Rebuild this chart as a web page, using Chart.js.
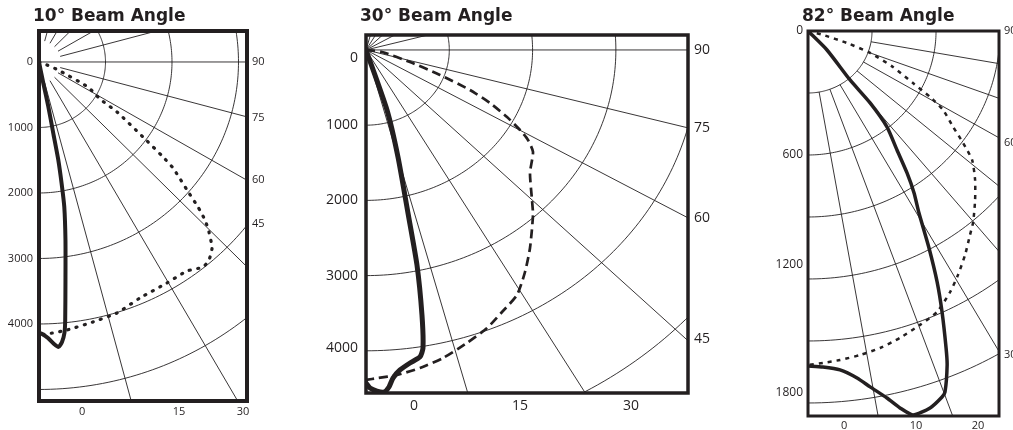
<!DOCTYPE html>
<html>
<head>
<meta charset="utf-8">
<script src="https://cdn.jsdelivr.net/npm/chart.js@4.4.1/dist/chart.umd.min.js"></script>
<style>
  html, body { margin: 0; padding: 0; background: #fff; }
  body { width: 1013px; height: 430px; position: relative; overflow: hidden; }
  canvas { position: absolute; top: 0; }
</style>
</head>
<body>
<canvas id="beam10" width="300" height="430" style="left:0px"></canvas>
<canvas id="beam30" width="440" height="430" style="left:300px"></canvas>
<canvas id="beam82" width="273" height="430" style="left:740px"></canvas>
<script>
// 10° beam: lateral (x) and vertical (y) candela components
const beam10SolidX = [0, 65, 140, 215, 290, 340, 380, 398, 398, 394, 383, 346, 293, 226, 135, 60, 0];
const beam10SolidY = [0, 325, 680, 1090, 1495, 1855, 2210, 2720, 3330, 3940, 4135, 4275, 4350, 4305, 4215, 4160, 4135];
const beam10DotX = [0, 120, 286, 737, 917, 1173, 1564, 1865, 2015, 2226, 2391, 2496, 2556, 2602, 2556, 2466, 2226, 1925, 1519, 1173, 812, 421, 120, 0];
const beam10DotY = [0, 46, 122, 382, 565, 763, 1145, 1450, 1618, 1954, 2214, 2412, 2595, 2840, 3023, 3130, 3191, 3374, 3603, 3832, 3969, 4092, 4153, 4168];

// 30° beam
const beam30SolidX = [0, 252, 384, 504, 612, 672, 684, 648, 528, 408, 324, 276, 216, 132, 48, 0];
const beam30SolidY = [0, 798, 1423, 2168, 2859, 3524, 3963, 4082, 4162, 4255, 4362, 4481, 4548, 4535, 4495, 4428];
const beam30DashX = [0, 192, 528, 888, 1248, 1489, 1693, 1849, 1945, 2005, 1969, 1993, 2005, 1969, 1909, 1813, 1633, 1453, 1212, 924, 648, 372, 144, 0];
const beam30DashY = [0, 27, 160, 332, 532, 705, 891, 1064, 1197, 1356, 1636, 1995, 2194, 2633, 2952, 3258, 3484, 3697, 3896, 4096, 4229, 4322, 4362, 4388];

// 82° beam
const beam82SolidX = [0, 89, 197, 291, 370, 417, 464, 497, 520, 567, 605, 628, 647, 652, 642, 628, 572, 492, 431, 370, 291, 230, 150, 70, 0];
const beam82SolidY = [0, 92, 237, 348, 464, 576, 687, 784, 881, 1050, 1214, 1359, 1534, 1616, 1747, 1771, 1824, 1858, 1824, 1776, 1722, 1679, 1640, 1626, 1621];
const beam82DotX = [0, 70, 183, 291, 398, 492, 572, 633, 680, 727, 769, 783, 783, 774, 759, 736, 703, 666, 605, 525, 431, 338, 244, 150, 70, 0];
const beam82DotY = [0, 19, 58, 106, 174, 252, 319, 382, 464, 542, 624, 721, 818, 924, 987, 1084, 1180, 1263, 1359, 1422, 1485, 1534, 1568, 1592, 1606, 1616];

// grids: arc radii (cd) and spoke angles (deg from nadir)
const beam10Arcs = [1000, 2000, 3000, 4000, 5000];
const beam10Spokes = [15, 30, 45, 60, 75, 90, 105, 120, 135, 150, 165];
const beam30Arcs = [1000, 2000, 3000, 4000, 5250];
const beam30Spokes = [15, 30, 45, 60, 75, 90, 105, 120, 135, 150, 165];
const beam82Arcs = [300, 600, 900, 1200, 1500, 1800];
const beam82Spokes = [10, 20, 30, 40, 50, 60, 70, 80, 90];

// tick labels and where they sit
const beam10LeftLabels = ['0', '1000', '2000', '3000', '4000'];
const beam10LeftPos = [0, 1000, 2000, 3000, 4000];
const beam10RightLabels = ['90', '75', '60', '45'];
const beam10RightPos = [0, 855, 1800, 2470];
const beam10BottomLabels = ['0', '15', '30'];
const beam10BottomPos = [647, 2105, 3068];

const beam30LeftLabels = ['0', '1000', '2000', '3000', '4000'];
const beam30LeftPos = [106, 1000, 2000, 3000, 3960];
const beam30RightLabels = ['90', '75', '60', '45'];
const beam30RightPos = [0, 1037, 2234, 3843];
const beam30BottomLabels = ['0', '15', '30'];
const beam30BottomPos = [576, 1849, 3181];

const beam82LeftLabels = ['0', '600', '1200', '1800'];
const beam82LeftPos = [0, 600, 1132, 1751];
const beam82RightLabels = ['90', '60', '30'];
const beam82RightPos = [0, 542, 1567];
const beam82BottomLabels = ['0', '10', '20'];
const beam82BottomPos = [169, 506, 797];

const INK = '#231f20';
const LABEL_FONT = '"Open Sans", "DejaVu Sans", sans-serif';
const TITLE_FONT = '"DejaVu Sans", "Open Sans", sans-serif';

const zip = (xs, ys) => xs.map((x, i) => ({ x, y: ys[i] }));

const polarGrid = {
  id: 'polarGrid',
  afterLayout(chart) {
    const t = chart.titleBlock;
    if (t) { t.left -= 6; t.right -= 6; }
  },
  beforeDatasetsDraw(chart, args, opts) {
    const { ctx, chartArea: a, scales: { x, y } } = chart;
    const pt = (r, deg) => {
      const t = deg * Math.PI / 180;
      return [x.getPixelForValue(r * Math.sin(t)), y.getPixelForValue(r * Math.cos(t))];
    };
    ctx.save();
    ctx.beginPath();
    ctx.rect(a.left, a.top, a.right - a.left, a.bottom - a.top);
    ctx.clip();
    ctx.strokeStyle = INK;
    ctx.lineWidth = opts.lineWidth;
    opts.arcs.forEach(r => {
      ctx.beginPath();
      for (let d = 0; d <= 180; d += 1) {
        const [u, v] = pt(r, d);
        if (d === 0) ctx.moveTo(u, v); else ctx.lineTo(u, v);
      }
      ctx.stroke();
    });
    opts.spokes.forEach(deg => {
      const [u0, v0] = pt(deg === 90 ? 0 : opts.spokeStart, deg);
      const [u1, v1] = pt(30000, deg);
      ctx.beginPath();
      ctx.moveTo(u0, v0);
      ctx.lineTo(u1, v1);
      ctx.stroke();
    });
    ctx.restore();
  },
  afterDatasetsDraw(chart, args, opts) {
    const { ctx, chartArea: a } = chart;
    ctx.save();
    ctx.strokeStyle = INK;
    ctx.lineWidth = opts.frameWidth;
    ctx.strokeRect(a.left, a.top, a.right - a.left, a.bottom - a.top);
    ctx.restore();
  }
};

function fixedTicks(pos, labels) {
  return {
    afterBuildTicks: ax => { ax.ticks = pos.map(v => ({ value: v })); },
    callback: (v, i) => labels[i]
  };
}

function buildPanel(id, c) {
  const left = fixedTicks(c.leftPos, c.leftLabels);
  const right = fixedTicks(c.rightPos, c.rightLabels);
  const bottom = fixedTicks(c.bottomPos, c.bottomLabels);
  const tickFont = size => ({ family: LABEL_FONT, size });

  new Chart(document.getElementById(id), {
    type: 'scatter',
    data: {
      datasets: [
        {
          data: zip(c.solidX, c.solidY),
          showLine: true, pointRadius: 0, tension: 0.2,
          borderColor: INK, borderWidth: c.solidWidth,
          borderJoinStyle: 'round', borderCapStyle: 'round'
        },
        {
          data: zip(c.brokenX, c.brokenY),
          showLine: true, pointRadius: 0, tension: 0.2,
          borderColor: INK, borderWidth: c.brokenWidth,
          borderDash: c.dash, borderCapStyle: c.cap
        }
      ]
    },
    options: {
      responsive: false,
      animation: false,
      events: [],
      layout: { padding: 0 },
      plugins: {
        legend: { display: false },
        tooltip: { enabled: false },
        title: {
          display: true, text: c.title, align: 'start', fullSize: false,
          color: INK,
          font: { family: TITLE_FONT, size: 17, weight: 'bold' },
          padding: { top: 6, bottom: c.titleGap }
        },
        polarGrid: {
          arcs: c.arcs, spokes: c.spokes, spokeStart: c.spokeStart,
          lineWidth: 0.9, frameWidth: c.frameWidth
        }
      },
      scales: {
        x: {
          type: 'linear', position: 'bottom', min: c.xMin, max: c.xMax,
          grid: { display: false, drawTicks: false }, border: { display: false },
          afterBuildTicks: bottom.afterBuildTicks,
          afterFit: ax => { ax.height = c.bottomH; },
          ticks: {
            autoSkip: false, maxRotation: 0, padding: c.bottomPad,
            color: INK, font: tickFont(c.bottomSize), callback: bottom.callback
          }
        },
        y: {
          type: 'linear', position: 'left', reverse: true, min: c.yMin, max: c.yMax,
          grid: { display: false, drawTicks: false }, border: { display: false },
          afterBuildTicks: left.afterBuildTicks,
          afterFit: ax => { ax.width = c.leftW; },
          ticks: {
            autoSkip: false, padding: c.leftPad,
            color: INK, font: tickFont(c.leftSize), callback: left.callback
          }
        },
        y2: {
          type: 'linear', position: 'right', display: true, reverse: true, min: c.yMin, max: c.yMax,
          grid: { display: false, drawTicks: false }, border: { display: false },
          afterBuildTicks: right.afterBuildTicks,
          afterFit: ax => { ax.width = c.rightW; },
          ticks: {
            autoSkip: false, padding: c.rightPad,
            color: INK, font: tickFont(c.rightSize), callback: right.callback
          }
        }
      }
    },
    plugins: [polarGrid]
  });
}

buildPanel('beam10', {
  title: '10° Beam Angle', titleGap: 4.6,
  solidX: beam10SolidX, solidY: beam10SolidY, solidWidth: 4,
  brokenX: beam10DotX, brokenY: beam10DotY, brokenWidth: 3.2, dash: [1, 7.5], cap: 'round',
  arcs: beam10Arcs, spokes: beam10Spokes, spokeStart: 330, frameWidth: 4,
  xMin: 0, xMax: 3128, yMin: -473, yMax: 5176,
  leftPos: beam10LeftPos, leftLabels: beam10LeftLabels, leftW: 39, leftPad: 6, leftSize: 11,
  rightPos: beam10RightPos, rightLabels: beam10RightLabels, rightW: 53, rightPad: 5, rightSize: 11,
  bottomPos: beam10BottomPos, bottomLabels: beam10BottomLabels, bottomH: 29, bottomPad: 4, bottomSize: 11
});

buildPanel('beam30', {
  title: '30° Beam Angle', titleGap: 8.6,
  solidX: beam30SolidX, solidY: beam30SolidY, solidWidth: 5,
  brokenX: beam30DashX, brokenY: beam30DashY, brokenWidth: 2.7, dash: [9, 5], cap: 'butt',
  arcs: beam30Arcs, spokes: beam30Spokes, spokeStart: 0, frameWidth: 3.5,
  xMin: 0, xMax: 3866, yMin: -199, yMax: 4561,
  leftPos: beam30LeftPos, leftLabels: beam30LeftLabels, leftW: 66, leftPad: 8, leftSize: 14,
  rightPos: beam30RightPos, rightLabels: beam30RightLabels, rightW: 52, rightPad: 6, rightSize: 14,
  bottomPos: beam30BottomPos, bottomLabels: beam30BottomLabels, bottomH: 37, bottomPad: 5, bottomSize: 14
});

buildPanel('beam82', {
  title: '82° Beam Angle', titleGap: 4.6,
  solidX: beam82SolidX, solidY: beam82SolidY, solidWidth: 3.5,
  brokenX: beam82DotX, brokenY: beam82DotY, brokenWidth: 2.5, dash: [4, 5], cap: 'butt',
  arcs: beam82Arcs, spokes: beam82Spokes, spokeStart: 300, frameWidth: 3,
  xMin: 0, xMax: 895, yMin: 0, yMax: 1863,
  leftPos: beam82LeftPos, leftLabels: beam82LeftLabels, leftW: 68, leftPad: 5, leftSize: 12,
  rightPos: beam82RightPos, rightLabels: beam82RightLabels, rightW: 14, rightPad: 5, rightSize: 11,
  bottomPos: beam82BottomPos, bottomLabels: beam82BottomLabels, bottomH: 14, bottomPad: 3, bottomSize: 11
});
</script>
</body>
</html>
